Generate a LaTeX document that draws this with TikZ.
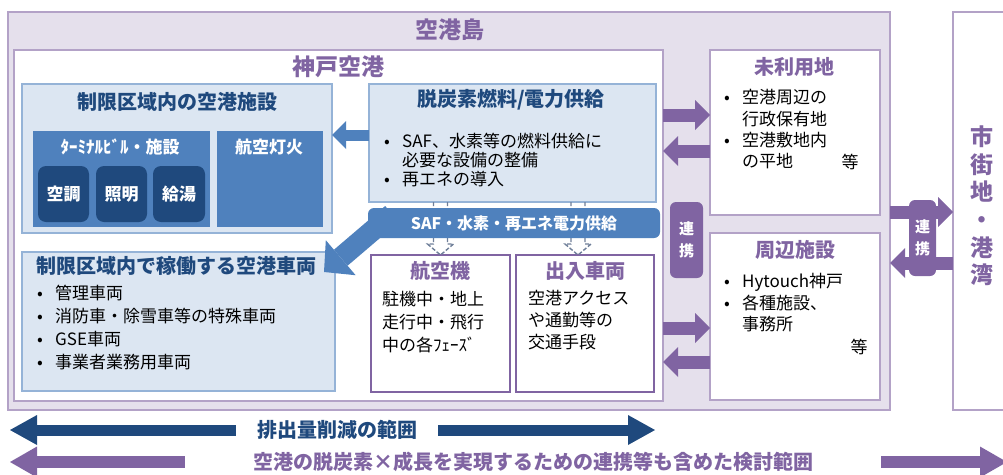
\documentclass[tikz,border=0pt]{standalone}
\usepackage{fontspec}
\setmainfont{Noto Sans CJK JP}
\usepackage{tikz}
\usetikzlibrary{calc}
\usetikzlibrary{arrows.meta}
\usetikzlibrary{positioning}

\definecolor{lavfill}{HTML}{E5E0EC}
\definecolor{lavline}{HTML}{B3A2C7}
\definecolor{purp}{HTML}{8064A2}
\definecolor{paleblue}{HTML}{DCE6F2}
\definecolor{lineblue}{HTML}{95B3D7}
\definecolor{midblue}{HTML}{4F81BD}
\definecolor{darkblue}{HTML}{1F497D}
\definecolor{dashgray}{HTML}{6F7F99}

\newcommand\fbig{\fontsize{23}{27.6}\selectfont\bfseries}
\newcommand\fhead{\fontsize{20}{24}\selectfont\bfseries}
\newcommand\fsub{\fontsize{17}{20}\selectfont\bfseries}
\newcommand\fbar{\fontsize{16}{20}\selectfont\bfseries}
\newcommand\ftab{\fontsize{15}{22}\selectfont\bfseries}
\newcommand\fbody{\fontsize{17}{21}\selectfont}
\newcommand\itm{\makebox[18pt][l]{•}}
\newcommand\ind{\hspace*{18pt}}

\tikzstyle{box} = [rectangle, anchor=north west, inner sep=0pt, outer sep=0pt]
\tikzstyle{bluebox} = [box, draw=lineblue, fill=paleblue, line width=2pt]
\tikzstyle{midbox} = [box, fill=midblue]
\tikzstyle{navybox} = [box, fill=darkblue, rounded corners=8pt, minimum width=51pt, minimum height=56pt, text=white, font=\fsub]
\tikzstyle{purbox} = [box, draw=purp, fill=white, line width=2.5pt]
\tikzstyle{lavbox} = [box, draw=lavline, fill=white, line width=2.5pt]
\tikzstyle{tab} = [box, fill=purp, rounded corners=6pt, text=white, font=\ftab, align=center]
\tikzstyle{items} = [anchor=north west, inner sep=0pt, align=left, font=\fbody]
\tikzstyle{parr} = [draw=purp, line width=13pt, -{Triangle[length=15pt, width=30pt, line width=0pt, fill=purp]}]
\tikzstyle{barr} = [draw=midblue, line width=11pt, -{Triangle[length=14pt, width=28pt, line width=0pt, fill=midblue]}]
\tikzstyle{darr} = [draw=midblue, line width=21pt, -{Triangle[length=22pt, width=46pt, line width=0pt, fill=midblue]}]
\tikzstyle{dashar} = [draw=dashgray, line width=1.4pt, dash pattern=on 4pt off 2pt]

\begin{document}
\begin{tikzpicture}[x=1pt, y=-1pt]
\useasboundingbox (0,0) rectangle (1003,474);

% frames
\node [box, draw=lavline, fill=lavfill, line width=2pt, minimum width=882pt, minimum height=398pt] (isl) at (8,12) {};
\node [box, draw=lavline, fill=white, line width=2pt, minimum width=70pt, minimum height=398pt] (city) at (953,12) {};
\node [box, draw=lavline, fill=white, line width=2pt, minimum width=649pt, minimum height=351pt] (kobe) at (14,50) {};
\node [text=purp, font=\fbig] (islt) at (450,30) {空港島};
\node [text=purp, font=\fbig] (kobet) at (338,67) {神戸空港};
\node [text=purp, font=\fbig, align=center] (cityt) at (982,206) {市\\街\\地\\・\\港\\湾};

% restricted area facilities
\node [bluebox, minimum width=310pt, minimum height=149pt] (fac) at (22,84) {};
\node [text=darkblue, font=\fhead] (fact) at (177,102) {制限区域内の空港施設};
\node [midbox, minimum width=177pt, minimum height=96pt] (term) at (33,131) {};
\node [text=white, font=\fsub] (termt) at (120,147) {ﾀｰﾐﾅﾙﾋﾞﾙ・施設};
\node [navybox] (ac) at (38,166) {空調};
\node [navybox] (li) at (96,166) {照明};
\node [navybox, minimum width=52pt] (hw) at (153,166) {給湯};
\node [midbox, minimum width=106pt, minimum height=96pt] (lamp) at (217,131) {};
\node [text=white, font=\fsub] (lampt) at (269,147) {航空灯火};

% fuel / power supply
\node [bluebox, minimum width=287pt, minimum height=118pt] (fuel) at (369,84) {};
\node [text=darkblue, font=\fhead] (fuelt) at (511,100) {脱炭素燃料/電力供給};
\node [items, font=\fontsize{17}{19}\selectfont] (fueli) at (384,132.5) {\itm SAF、水素等の燃料供給に\\\ind 必要な設備の整備\\\itm 再エネの導入};
\draw [barr] (fuel.west |- 0,135) -- (fac.east |- 0,135);

% vehicles in restricted area
\node [bluebox, minimum width=313pt, minimum height=139pt] (veh) at (22,252) {};
\node [text=darkblue, font=\fhead, anchor=west, inner sep=0pt] (veht) at (36,266) {制限区域内で稼働する空港車両};
\node [items, font=\fontsize{17}{23}\selectfont] (vehi) at (37,284.5) {\itm 管理車両\\\itm 消防車・除雪車等の特殊車両\\\itm GSE車両\\\itm 事業者業務用車両};

% aircraft and access vehicles
\node [purbox, minimum width=139pt, minimum height=137pt] (plane) at (371,255) {};
\node [text=purp, font=\fhead] (planet) at (440,271) {航空機};
\node [items, font=\fontsize{17}{23}\selectfont] (planei) at (382,290.5) {駐機中・地上\\走行中・飛行\\中の各ﾌｪｰｽﾞ};
\node [purbox, minimum width=138pt, minimum height=137pt] (car) at (516,255) {};
\node [text=purp, font=\fhead] (cart) at (585,271) {出入車両};
\node [items, font=\fontsize{17}{22}\selectfont] (cari) at (528,290) {空港アクセス\\や通勤等の\\交通手段};

% supply bar and its arrows
\coordinate (barw) at (368,223);
\draw [darr] ($(barw)+(24,-9)$) -- ($(veh.north east)+(-11,20)$);
\draw [dashar] (plane.north |- fuel.south) ++(-7,0) -- ++(0,42) -- ++(-6,0) -- (plane.north) -- ++(13,-11) -- ++(-6,0) -- ++(0,-42);
\draw [dashar] ([xshift=-7pt]car.north |- fuel.south) ++(-7,0) -- ++(0,42) -- ++(-6,0) -- ([xshift=-7pt]car.north) -- ++(13,-11) -- ++(-6,0) -- ++(0,-42);
\node [box, fill=midblue, rounded corners=6pt, minimum width=292pt, minimum height=30pt, text=white, font=\fbar] (bar) at (barw |- 0,208) {SAF・水素・再エネ電力供給};

% unused land and nearby facilities
\node [lavbox, minimum width=170pt, minimum height=165pt] (idle) at (710,50) {};
\node [text=purp, font=\fhead] (idlet) at (794,67) {未利用地};
\node [items, font=\fontsize{17}{21.3}\selectfont] (idlei) at (724,89.5) {\itm 空港周辺の\\\ind 行政保有地\\\itm 空港敷地内\\\ind の平地};
\node [font=\fbody] (idlee) at (850,162) {等};
\node [lavbox, minimum width=170pt, minimum height=167pt] (near) at (710,233) {};
\node [text=purp, font=\fhead] (neart) at (795,250) {周辺施設};
\node [items, font=\fontsize{17}{21.5}\selectfont] (neari) at (724,273.5) {\itm Hytouch神戸\\\itm 各種施設、\\\ind 事務所};
\node [font=\fbody] (neare) at (859,347) {等};

\draw [parr] (kobe.east |- 0,115) -- (idle.west |- 0,115);
\draw [parr] (idle.west |- 0,151) -- (kobe.east |- 0,151);
\draw [parr] (kobe.east |- 0,328) -- (near.west |- 0,328);
\draw [parr] (near.west |- 0,362) -- (kobe.east |- 0,362);
\node [tab, minimum width=33pt, minimum height=76pt] (tie1) at (670,202) {連\\携};

\draw [parr] (isl.east |- 0,212) -- (city.west |- 0,212);
\draw [parr] (city.west |- 0,263) -- (isl.east |- 0,263);
\node [tab, minimum width=27pt, minimum height=76pt] (tie2) at (909,200) {連\\携};

% scope arrows
\coordinate (s1l) at (10,430);
\coordinate (s1r) at (655,430);
\draw [draw=darkblue, line width=11pt, {Triangle[length=27pt, width=30pt, line width=0pt, fill=darkblue]}-{Triangle[length=27pt, width=30pt, line width=0pt, fill=darkblue]}] (s1l) -- (s1r);
\node [fill=white, inner xsep=21pt, text=darkblue, font=\fhead] (s1t) at (337,430) {排出量削減の範囲};
\coordinate (s2l) at (10,462);
\coordinate (s2r) at (1007,462);
\draw [draw=purp, line width=12pt, {Triangle[length=27pt, width=31pt, line width=0pt, fill=purp]}-{Triangle[length=27pt, width=31pt, line width=0pt, fill=purp]}] (s2l) -- (s2r);
\node [fill=white, inner xsep=68pt, text=purp, font=\fhead] (s2t) at (533,462) {空港の脱炭素×成長を実現するための連携等も含めた検討範囲};
\end{tikzpicture}
\end{document}
